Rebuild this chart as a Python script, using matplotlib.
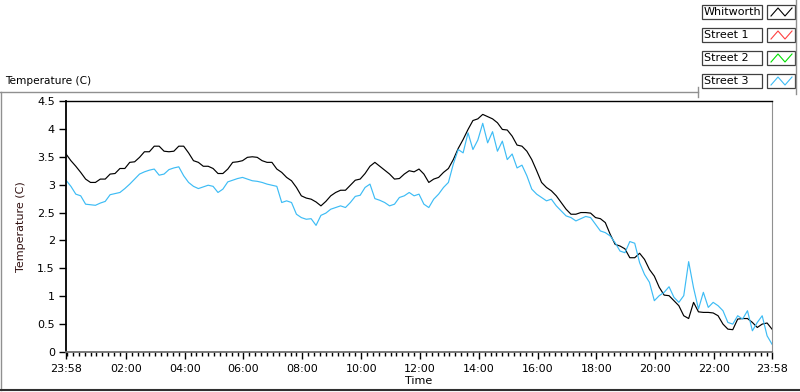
import numpy as np
import matplotlib
matplotlib.use("Agg")
import matplotlib.pyplot as plt
from matplotlib.patches import Rectangle
from matplotlib.lines import Line2D

# minutes since 23:58, one reading every 10 minutes
time_min = np.arange(0, 1441, 10)

whitworth = [
    3.55, 3.43, 3.33, 3.22, 3.10, 3.04, 3.04, 3.10, 3.10, 3.19,
    3.20, 3.29, 3.29, 3.40, 3.41, 3.49, 3.59, 3.59, 3.69, 3.69,
    3.60, 3.59, 3.60, 3.69, 3.69, 3.57, 3.43, 3.40, 3.33,
    3.33, 3.29, 3.20, 3.20, 3.28, 3.40, 3.41, 3.43, 3.49, 3.50,
    3.49, 3.43, 3.40, 3.40, 3.28, 3.22, 3.13, 3.07, 2.95, 2.80,
    2.76, 2.74, 2.69, 2.62, 2.70, 2.80, 2.86, 2.90,
    2.90, 2.99, 3.08, 3.10, 3.20, 3.33, 3.40, 3.33, 3.26, 3.19,
    3.10, 3.11, 3.19, 3.25, 3.23, 3.28, 3.19, 3.04, 3.10, 3.13,
    3.22, 3.29, 3.45, 3.65, 3.81, 3.99, 4.15, 4.18, 4.26,
    4.22, 4.18, 4.11, 3.99, 3.98, 3.87, 3.71, 3.69, 3.60, 3.45,
    3.25, 3.04, 2.95, 2.89, 2.80, 2.68, 2.56, 2.47, 2.47, 2.50,
    2.50, 2.49, 2.41, 2.39, 2.32, 2.11, 1.93, 1.90,
    1.85, 1.69, 1.69, 1.77, 1.66, 1.48, 1.36, 1.16, 1.02, 1.01,
    0.92, 0.83, 0.65, 0.60, 0.89, 0.72, 0.71, 0.71, 0.70, 0.65,
    0.50, 0.41, 0.40, 0.59, 0.60, 0.60, 0.53, 0.44, 0.50, 0.52, 0.41,
]

street3 = [
    3.08, 2.97, 2.83, 2.80, 2.65, 2.64, 2.63, 2.67, 2.70, 2.82,
    2.84, 2.86, 2.93, 3.01, 3.10, 3.19, 3.23, 3.26, 3.28, 3.17,
    3.19, 3.27, 3.30, 3.32, 3.16, 3.04, 2.97, 2.93, 2.96,
    2.99, 2.97, 2.86, 2.92, 3.05, 3.08, 3.11, 3.13, 3.10, 3.07,
    3.06, 3.04, 3.01, 2.99, 2.97, 2.68, 2.71, 2.68, 2.47, 2.41,
    2.38, 2.39, 2.27, 2.45, 2.49, 2.56, 2.59, 2.62,
    2.59, 2.68, 2.79, 2.81, 2.95, 3.01, 2.75, 2.72, 2.68, 2.62,
    2.65, 2.77, 2.80, 2.86, 2.80, 2.83, 2.65, 2.59, 2.74, 2.83,
    2.95, 3.04, 3.37, 3.63, 3.57, 3.93, 3.63, 3.80, 4.10,
    3.75, 3.95, 3.60, 3.78, 3.45, 3.55, 3.30, 3.35, 3.16, 2.92,
    2.83, 2.77, 2.71, 2.74, 2.62, 2.53, 2.44, 2.41, 2.35, 2.39,
    2.43, 2.41, 2.29, 2.17, 2.14, 2.08, 1.96, 1.81,
    1.78, 1.98, 1.95, 1.60, 1.39, 1.25, 0.92, 1.01, 1.07, 1.17,
    0.98, 0.89, 1.01, 1.62, 1.15, 0.77, 1.07, 0.80, 0.89, 0.83,
    0.74, 0.53, 0.50, 0.65, 0.59, 0.74, 0.38, 0.53, 0.65, 0.29, 0.14,
]

legend_names = ["Whitworth", "Street 1", "Street 2", "Street 3"]
legend_colors = ["black", "#ff4040", "#00e000", "#3dbcf5"]

x_labels = ["23:58", "02:00", "04:00", "06:00", "08:00", "10:00", "12:00",
            "14:00", "16:00", "18:00", "20:00", "22:00", "23:58"]
x_ticks = [0] + [122 + 120 * i for i in range(11)] + [1440]

W, H = 800, 392
fig = plt.figure(figsize=(W / 100, H / 100), dpi=100)
fig.patch.set_facecolor("white")


def fx(x):
    return x / W


def fy(y):
    return 1 - y / H


ax = fig.add_axes([fx(66), fy(352), (772 - 66) / W, (352 - 101) / H])
ax.plot(time_min, whitworth, color=legend_colors[0], lw=0.85)
ax.plot(time_min, street3, color=legend_colors[3], lw=0.85)

ax.set_xlim(0, 1440)
ax.set_ylim(0, 4.5)
ax.set_yticks(np.arange(0, 4.51, 0.5))
ax.set_yticklabels(["0", "0.5", "1", "1.5", "2", "2.5", "3", "3.5", "4", "4.5"])
ax.set_xticks(x_ticks)
ax.set_xticklabels(x_labels)
ax.set_xticks([m for m in range(2, 1440, 12) if m not in x_ticks], minor=True)
ax.tick_params(axis="both", which="major", labelsize=8, direction="out",
               length=5, width=1, pad=3, colors="black")
ax.tick_params(axis="x", which="minor", direction="out", length=3, width=1)
ax.tick_params(axis="x", which="major", pad=4)

for side in ["left", "top"]:
    ax.spines[side].set_color("black")
ax.spines["left"].set_linewidth(1.3)
ax.spines["top"].set_linewidth(1.0)
ax.spines["right"].set_color("#909090")
ax.spines["bottom"].set_color("#707070")
ax.spines["bottom"].set_linewidth(1.3)

ax.set_xlabel("Time", fontsize=8, labelpad=1)
ax.set_ylabel("Temperature (C)", fontsize=8, color="#301010", labelpad=8)

# caption and panel frame
fig.text(fx(5), fy(81), "Temperature (C)", fontsize=7.6, va="center", ha="left")
fig.add_artist(Line2D([fx(0), fx(698)], [fy(92), fy(92)], color="#909090", lw=1))
fig.add_artist(Line2D([fx(698), fx(698)], [fy(87), fy(97)], color="#909090", lw=1))
fig.add_artist(Line2D([fx(1), fx(1)], [fy(92), fy(390)], color="#909090", lw=1))
fig.add_artist(Line2D([fx(0), fx(800)], [fy(390), fy(390)], color="#303030", lw=1.5))
fig.add_artist(Line2D([fx(796), fx(796)], [fy(0), fy(94)], color="#909090", lw=1))

# legend (LabVIEW plot legend)
row_top = [5, 28, 51, 74]
for name, col, top in zip(legend_names, legend_colors, row_top):
    fig.add_artist(Rectangle((fx(702), fy(top + 14)), 60 / W, 14 / H,
                             facecolor="white", edgecolor="#404040", lw=0.9))
    fig.add_artist(Rectangle((fx(767), fy(top + 14)), 28 / W, 14 / H,
                             facecolor="white", edgecolor="#404040", lw=0.9))
    fig.text(fx(704), fy(top + 7), name, fontsize=8, va="center", ha="left")
    gx = [771, 778, 785, 792]
    gy = [top + 11, top + 3, top + 11, top + 3]
    fig.add_artist(Line2D([fx(v) for v in gx], [fy(v) for v in gy], color=col, lw=0.8))

fig.savefig("out.png", dpi=100)
